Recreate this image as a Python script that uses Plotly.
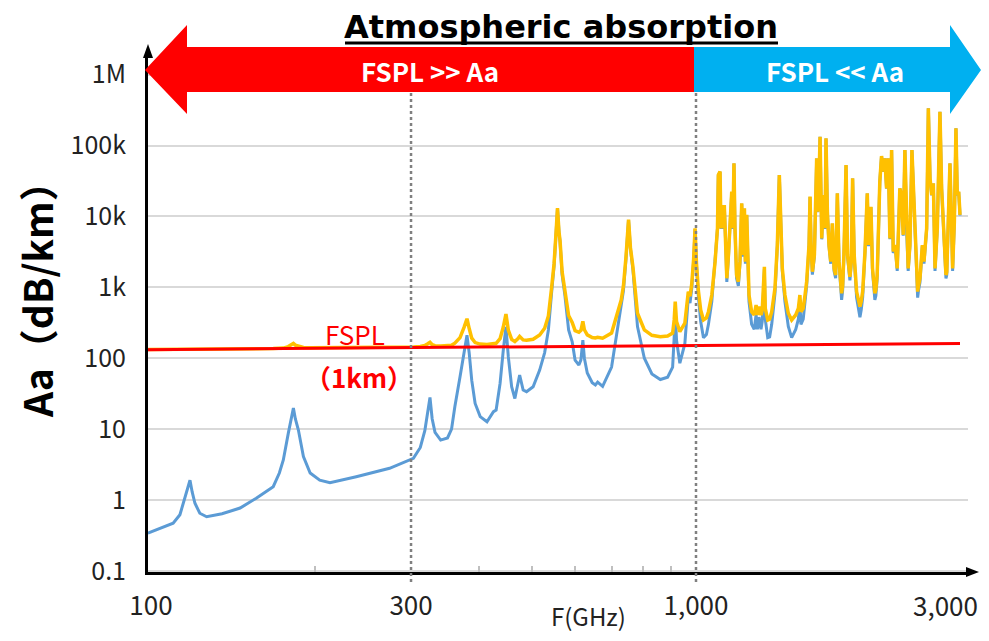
import plotly.graph_objects as go

# ---------------- data ----------------
freq_ghz = [98.7, 104, 109.8, 113, 114.6, 116.5, 117.9, 119, 120.4, 122.9, 126.5, 135, 145.7, 156, 167.6,
            172, 174.9, 178.6, 181, 182.5, 184, 186.4, 190.4, 195.9, 204, 213, 238, 274, 303, 312, 318, 322,
            325, 328, 332, 340, 350, 356, 361, 369, 375.3, 380, 383.6, 387.7, 393.3, 401.8, 413.5, 425,
            429.8, 437, 443, 448, 452.5, 458.9, 465.2, 471.5, 474.7, 481.8, 488.7, 502.5, 516.6, 527.6,
            536, 543, 549, 554, 557, 560.5, 563, 568, 574.7, 583.8, 592.7, 600, 609.7, 615, 620, 624, 631.7,
            645, 653.7, 660, 674, 700, 729, 736, 744, 752, 758, 766, 781, 804, 830, 860, 887, 906, 912, 916,
            921, 934, 954, 968, 975, 982, 990, 996, 1002, 1010, 1020, 1032, 1045, 1054, 1069, 1084,
            1095, 1099, 1107, 1111, 1118, 1122, 1127, 1134, 1139, 1147, 1155, 1163, 1168, 1174, 1179, 1187,
            1196, 1204, 1213, 1220, 1227, 1232, 1239, 1246, 1251, 1265, 1279, 1289, 1296, 1305, 1316, 1323,
            1335, 1340, 1354, 1365, 1377, 1396, 1410, 1422, 1432, 1440, 1456, 1477, 1498, 1524, 1541, 1551,
            1558, 1573, 1585, 1596, 1612, 1619, 1626, 1635, 1649, 1658, 1665, 1672, 1679, 1689, 1701, 1713,
            1725, 1732, 1742, 1754, 1767, 1779, 1792, 1804, 1817, 1830, 1842, 1850, 1858, 1868, 1885, 1897,
            1916, 1927, 1938, 1951, 1971, 1985, 1999, 2010, 2022, 2042, 2062, 2073, 2094, 2108, 2122, 2129,
            2138, 2150, 2174, 2190, 2205, 2221, 2237, 2253, 2269, 2285, 2301, 2320, 2340, 2366, 2383, 2400,
            2417, 2434, 2451, 2469, 2490, 2512, 2529, 2545, 2551, 2560, 2576, 2602, 2620, 2650, 2669, 2688,
            2707, 2726, 2745, 2772, 2803, 2823, 2843, 2868, 2875, 2885, 2904, 2924, 2945, 2957, 2979, 2999,
            3016, 3034, 3051]

aa_gas = [0.34, 0.40, 0.47, 0.62, 0.9, 1.4, 1.9, 1.3, 0.9, 0.65, 0.58, 0.64, 0.77, 1.06, 1.54,
          2.4, 3.67, 8.7, 14, 19.8, 14, 9.7, 4.1, 2.4, 1.9, 1.75, 2.13, 2.8, 3.87, 5.5, 9.5, 17,
          28, 14, 9, 7, 7.5, 10, 20.7, 54.8, 130, 211, 118, 49, 23, 15, 12.7, 17.6,
          18.6, 44, 130, 277, 105, 39.6, 27, 44, 58, 35.6, 33.7, 39.6, 68, 120,
          250, 800, 2000, 6300, 13000, 6000, 4400, 1500, 770, 250, 170, 94, 80, 95, 180, 100, 62,
          45, 42, 46, 40, 75, 510, 900, 2550, 8900, 3500, 1800, 280, 100, 60, 50, 54, 75, 200, 470,
          180, 85, 160, 720, 600, 950, 2350, 6650, 2050, 750, 330, 195, 215, 300, 630, 2150,
          6650, 38000, 42700, 6650, 14300, 6650, 14300, 3800, 1190, 2710, 6650, 22100, 6650, 55800, 6650, 1340,
          1050, 2150, 15100, 2710, 12800, 2150, 10300, 2150, 630, 300, 255, 410, 255, 380, 255, 330,
          1800, 355, 195, 200, 300, 815, 3800, 38200, 3800, 1700, 630, 280, 195, 255, 355, 630,
          300, 355, 630, 1050, 3800, 18800, 3800, 1510, 2710, 19800, 65700, 11500, 19800, 132800, 4750, 19800,
          6650, 125800, 11500, 3800, 2150, 7850, 1700, 1340, 21000, 2150, 900, 665, 900, 2700, 52800, 2700,
          1250, 2150, 34200, 2700, 715, 480, 378, 480, 715, 3050, 21000, 3800, 13500, 1700, 760, 665,
          760, 1330, 30700, 70800, 42600, 65700, 24700, 65700, 4750, 86200, 3050, 3800, 1700, 24700, 19800, 5350,
          86200, 6650, 1700, 3800, 86200, 15900, 3050, 900, 715, 900, 1180, 3800, 2150, 6650, 333800, 34200,
          19800, 29100, 1700, 6650, 299800, 24700, 6650, 1500, 1330, 1500, 6650, 55800, 6650, 1700, 8250, 174800,
          19800, 22100, 10300]

aa_total = [133, 133, 133.5, 134, 134, 134.5, 135, 134.5, 134, 134, 134, 134.5, 135, 136, 137,
            138, 139, 146, 153, 162, 153, 148, 142, 140, 140, 140, 140.5, 142, 144, 146, 151, 160,
            168, 155, 150, 149, 150, 152, 163, 195, 272, 360, 262, 192, 166, 158, 156, 161,
            162, 188, 275, 420, 250, 184, 172, 189, 203, 181, 179, 185, 213, 265,
            395, 950, 2150, 6400, 13100, 6100, 4550, 1650, 920, 400, 320, 245, 232, 247, 330, 252, 213,
            196, 193, 197, 191, 226, 660, 1050, 2700, 9000, 3650, 1950, 430, 250, 210, 201, 205, 226, 350, 626,
            330, 237, 311, 870, 750, 1100, 2500, 6800, 2200, 900, 480, 346, 370, 453, 779, 2300,
            6800, 38400, 42800, 6800, 14500, 6800, 14500, 3950, 1340, 2860, 6800, 22300, 6800, 56000, 6800, 1490,
            1200, 2300, 15300, 2860, 13000, 2300, 10500, 2300, 779, 453, 407, 562, 407, 533, 407, 480,
            1950, 505, 346, 355, 453, 968, 3950, 38400, 3950, 1850, 779, 430, 346, 407, 505, 779,
            453, 505, 779, 1200, 3950, 19000, 3950, 1660, 2860, 20000, 65900, 11700, 20000, 133000, 4900, 20000,
            6800, 126000, 11700, 3950, 2300, 8000, 1850, 1490, 21200, 2300, 1050, 822, 1050, 2860, 53000, 2860,
            1410, 2300, 34400, 2860, 869, 635, 533, 635, 869, 3200, 21200, 3950, 13700, 1850, 915, 822,
            915, 1490, 30900, 71000, 42800, 65900, 24900, 65900, 4900, 86400, 3200, 3950, 1850, 24900, 20000, 5500,
            86400, 6800, 1850, 3950, 86400, 16100, 3200, 1050, 869, 1050, 1340, 3950, 2300, 6800, 334000, 34400,
            20000, 29300, 1850, 6800, 300000, 24900, 6800, 1650, 1490, 1650, 6800, 56000, 6800, 1850, 8400, 175000,
            20000, 22300, 10500]

fspl_freq = [98.7, 150, 200, 300, 500, 700, 1000, 1500, 2000, 3051]
fspl_1km = [132, 135.5, 138, 141.5, 146, 149, 152, 155.5, 158, 161.7]

x_tick_vals = [100, 300, 1000, 3000]
x_tick_text = ["100", "300", "1,000", "3,000"]
x_minor_vals = [200, 400, 500, 600, 700, 800, 900]
y_tick_vals = [0.1, 1, 10, 100, 1000, 1e4, 1e5, 1e6]
y_tick_text = ["0.1", "1", "10", "100", "1k", "10k", "100k", "1M"]
divider_freqs = [300, 1000]

# ---------------- layout geometry (pixels of the 989x641 reference) ----------------
# the page body adds an 8 px margin on every side, so the figure is made smaller to fit
OFF = 8
W, H = 989 - 2 * OFF, 641 - 2 * OFF
L, R, T, B = 148, 968, 56, 572   # plot area in reference pixels


def px(x):
    return (x - L) / (R - L)


def py(y):
    return (B - y) / (B - T)


X_LOG_RANGE = [2 + (L - 151) / 545, 2 + (R - 151) / 545]
Y_LOG_RANGE = [(500 - B) / 70.9, (500 - T) / 70.9]

FONT = "Noto Sans CJK JP"
TICK_FONT = dict(family=FONT, size=26, color="#222222")

fig = go.Figure()
fig.add_trace(go.Scatter(x=freq_ghz, y=aa_gas, mode="lines",
                         line=dict(color="#5B9BD5", width=3), hoverinfo="skip", showlegend=False))
fig.add_trace(go.Scatter(x=freq_ghz, y=aa_total, mode="lines",
                         line=dict(color="#FFC000", width=3.5), hoverinfo="skip", showlegend=False))
fig.add_trace(go.Scatter(x=fspl_freq, y=fspl_1km, mode="lines",
                         line=dict(color="#FF0000", width=3), hoverinfo="skip", showlegend=False))

shapes = []
for f in divider_freqs:
    shapes.append(dict(type="line", xref="x", yref="paper", x0=f, x1=f, y0=py(582), y1=py(92),
                       line=dict(color="#808080", width=2.5, dash="dot"), layer="above"))

# big arrows
red_path = (f"M {px(145)},{py(70)} L {px(187)},{py(25)} L {px(187)},{py(47)} L {px(694)},{py(47)} "
            f"L {px(694)},{py(92)} L {px(187)},{py(92)} L {px(187)},{py(114)} Z")
blue_path = (f"M {px(694)},{py(47)} L {px(950)},{py(47)} L {px(950)},{py(25)} L {px(981)},{py(70)} "
             f"L {px(950)},{py(114)} L {px(950)},{py(92)} L {px(694)},{py(92)} Z")
shapes.append(dict(type="path", xref="paper", yref="paper", path=red_path,
                   fillcolor="#FF0000", line=dict(width=0), layer="above"))
shapes.append(dict(type="path", xref="paper", yref="paper", path=blue_path,
                   fillcolor="#00B0F0", line=dict(width=0), layer="above"))
# axis arrowheads
shapes.append(dict(type="path", xref="paper", yref="paper",
                   path=f"M {px(143)},{py(58)} L {px(148)},{py(44)} L {px(153)},{py(58)} Z",
                   fillcolor="black", line=dict(width=0), layer="above"))
shapes.append(dict(type="path", xref="paper", yref="paper",
                   path=f"M {px(966)},{py(567)} L {px(979)},{py(572)} L {px(966)},{py(577)} Z",
                   fillcolor="black", line=dict(width=0), layer="above"))
# title underline
shapes.append(dict(type="line", xref="paper", yref="paper", x0=px(345), x1=px(778), y0=py(43), y1=py(43),
                   line=dict(color="black", width=3)))

annotations = [
    dict(text="<b>Atmospheric absorption</b>", x=px(561), y=py(27.5), xref="paper", yref="paper",
         showarrow=False, font=dict(family="DejaVu Sans", size=32, color="black"),
         xanchor="center", yanchor="middle"),
    dict(text="<b>FSPL &gt;&gt; Aa</b>", x=px(430), y=py(70), xref="paper", yref="paper",
         showarrow=False, font=dict(family=FONT, size=26, color="white"), xanchor="center", yanchor="middle"),
    dict(text="<b>FSPL &lt;&lt; Aa</b>", x=px(835), y=py(70), xref="paper", yref="paper",
         showarrow=False, font=dict(family=FONT, size=26, color="white"), xanchor="center", yanchor="middle"),
    dict(text="FSPL", x=px(355), y=py(333), xref="paper", yref="paper",
         showarrow=False, font=dict(family=FONT, size=26, color="#FF0000"), xanchor="center", yanchor="middle"),
    dict(text="<b>（1km）</b>", x=px(359), y=py(376), xref="paper", yref="paper",
         showarrow=False, font=dict(family=FONT, size=26, color="#FF0000"), xanchor="center", yanchor="middle"),
    dict(text="<b>Aa（dB/km）</b>", x=px(36), y=py(290), xref="paper", yref="paper", textangle=-90,
         showarrow=False, font=dict(family=FONT, size=39, color="black"), xanchor="center", yanchor="middle"),
    dict(text="F(GHz)", x=px(588), y=py(615), xref="paper", yref="paper",
         showarrow=False, font=dict(family=FONT, size=24, color="#222222"), xanchor="center", yanchor="middle"),
    # last x tick label: kept inside the page edge (the reference shows it touching the border)
    dict(text=x_tick_text[-1], x=px(980), y=py(604), xref="paper", yref="paper",
         showarrow=False, font=TICK_FONT, xanchor="right", yanchor="middle"),
]

fig.update_layout(
    width=W, height=H,
    margin=dict(l=L - OFF, r=W - (R - OFF), t=T - OFF, b=H - (B - OFF)),
    paper_bgcolor="white", plot_bgcolor="white",
    shapes=shapes, annotations=annotations, showlegend=False,
    xaxis=dict(type="log", range=X_LOG_RANGE, tickvals=x_tick_vals[:-1], ticktext=x_tick_text[:-1],
               automargin=False,
               showgrid=False, zeroline=False, showline=True, linecolor="black", linewidth=3,
               ticks="", ticklabelstandoff=9, tickfont=TICK_FONT,
               minor=dict(tickvals=x_minor_vals, ticks="inside", ticklen=6, tickcolor="#BFBFBF",
                          tickwidth=1.5, showgrid=False)),
    yaxis=dict(type="log", range=Y_LOG_RANGE, tickvals=y_tick_vals, ticktext=y_tick_text,
               automargin=False,
               showgrid=True, gridcolor="#D9D9D9", gridwidth=1.5, zeroline=False,
               showline=True, linecolor="black", linewidth=3, ticks="", ticklabelstandoff=14,
               tickfont=dict(family=FONT, size=25, color="#222222")),
)

fig.write_html("out.html")
